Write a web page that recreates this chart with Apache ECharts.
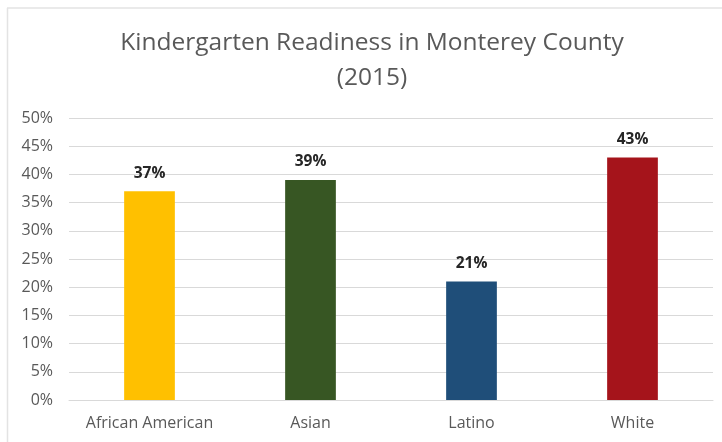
<!DOCTYPE html>
<html>
<head>
<meta charset="utf-8">
<script src="https://cdn.jsdelivr.net/npm/echarts@6/dist/echarts.min.js"></script>
<style>
  html, body { margin: 0; padding: 0; background: #fff; }
  #chart { width: 722px; height: 442px; }
</style>
</head>
<body>
<div id="chart"></div>
<script>
// Kindergarten readiness by group, Monterey County 2015
const categories = ['African American', 'Asian', 'Latino', 'White'];
const readiness = [37, 39, 21, 43];
const barColors = ['#FFC000', '#375623', '#1F4E79', '#A5141B'];
const yTicks = [0, 5, 10, 15, 20, 25, 30, 35, 40, 45, 50];

const font = '"Open Sans", "Noto Sans", sans-serif';
const chart = echarts.init(document.getElementById('chart'));

chart.setOption({
  backgroundColor: '#ffffff',
  animation: false,
  title: {
    text: 'Kindergarten Readiness in Monterey County\n(2015)',
    left: 367,
    top: 21,
    textAlign: 'center',
    textStyle: {
      fontFamily: font,
      fontSize: 24.5,
      fontWeight: 'normal',
      color: '#595959',
      lineHeight: 35
    }
  },
  graphic: [
    { type: 'line', shape: { x1: 7, y1: 8, x2: 722, y2: 8 }, style: { stroke: '#e3e3e3', lineWidth: 1.5 } },
    { type: 'line', shape: { x1: 7.5, y1: 8, x2: 7.5, y2: 442 }, style: { stroke: '#e3e3e3', lineWidth: 1.5 } }
  ],
  grid: { left: 69, right: 9, top: 118, bottom: 42, containLabel: false },
  xAxis: {
    type: 'category',
    data: categories,
    axisTick: { show: false },
    axisLine: { lineStyle: { color: '#d9d9d9', width: 1 } },
    axisLabel: { interval: 0, fontFamily: font, fontSize: 16, color: '#595959', margin: 15 }
  },
  yAxis: {
    type: 'value',
    min: yTicks[0],
    max: yTicks[yTicks.length - 1],
    interval: yTicks[1] - yTicks[0],
    axisLine: { show: false },
    axisTick: { show: false },
    splitLine: { lineStyle: { color: '#d9d9d9', width: 1 } },
    axisLabel: { fontFamily: font, fontSize: 16, color: '#595959', margin: 16, formatter: '{value}%' }
  },
  series: [{
    type: 'bar',
    data: readiness.map((v, i) => ({ value: v, itemStyle: { color: barColors[i] } })),
    barWidth: '31.5%',
    label: {
      show: true,
      position: 'top',
      distance: 10,
      formatter: '{c}%',
      fontFamily: font,
      fontSize: 15.5,
      fontWeight: 'bold',
      color: '#262626'
    }
  }]
});
</script>
</body>
</html>
